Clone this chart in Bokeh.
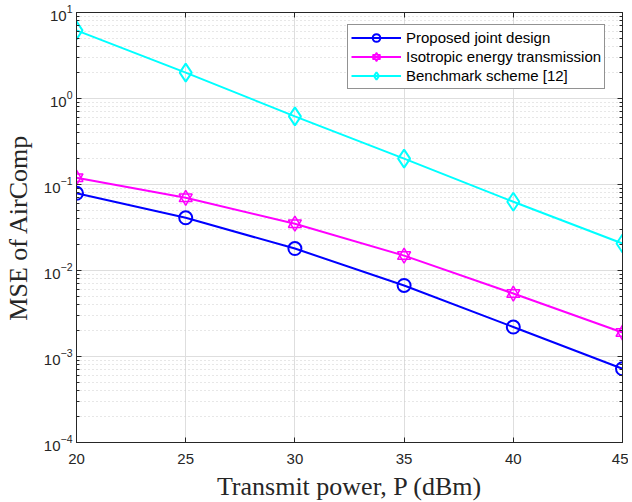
import numpy as np
from bokeh.plotting import figure
from bokeh.models import Range1d, FixedTicker, LinearAxis, LogAxis, Legend, LegendItem
from bokeh.embed import file_html
from bokeh.resources import INLINE

# ---- data ----
power_dbm = [20, 25, 30, 35, 40, 45]
mse_proposed = [0.079, 0.041, 0.018, 0.0067, 0.0022, 0.00072]
mse_isotropic = [0.12, 0.070, 0.035, 0.0149, 0.0054, 0.0019]
mse_benchmark = [6.2, 2.0, 0.62, 0.20, 0.063, 0.0206]

series_labels = ["Proposed joint design", "Isotropic energy transmission", "Benchmark scheme [12]"]
x_ticks = [20, 25, 30, 35, 40, 45]
y_major = [1e-4, 1e-3, 1e-2, 1e-1, 1e0, 1e1]
y_minor = [m * 10.0 ** k for k in range(-4, 1) for m in range(2, 10)]

AX = "#262626"
GRID = "#dedede"
MINOR = "#cfcfcf"

p = figure(frame_width=546, frame_height=430, output_backend="svg", toolbar_location=None,
           x_range=Range1d(20, 45), y_range=Range1d(1e-4, 1e1), y_axis_type="log",
           min_border_left=76, min_border_right=6, min_border_top=12, min_border_bottom=50)
p.background_fill_color = "white"
p.border_fill_color = "white"
p.outline_line_color = AX
p.outline_line_width = 1

xa = p.below[0]
ya = p.left[0]

xt = FixedTicker(ticks=x_ticks, minor_ticks=[])
yt = FixedTicker(ticks=y_major, minor_ticks=y_minor)

def style_axis(ax, show_labels=True):
    ax.axis_line_color = AX
    ax.major_tick_in = 5
    ax.major_tick_out = 0
    ax.minor_tick_in = 3
    ax.minor_tick_out = 0
    ax.major_tick_line_color = AX
    ax.minor_tick_line_color = AX
    ax.major_label_text_font = "Liberation Sans"
    ax.major_label_text_font_size = "15px"
    ax.major_label_text_color = AX if show_labels else None

xa.ticker = xt
ya.ticker = yt
style_axis(xa)
style_axis(ya)
xa.major_label_standoff = 11
ya.major_label_standoff = 4

top = LinearAxis(ticker=xt)
style_axis(top, False)
top.major_label_text_font_size = "1px"
top.major_label_standoff = 0
p.add_layout(top, "above")
right = LogAxis(ticker=yt)
style_axis(right, False)
right.major_label_text_font_size = "1px"
right.major_label_standoff = 0
p.add_layout(right, "right")

xa.axis_label = "Transmit power, P (dBm)"
ya.axis_label = "MSE of AirComp"
for ax in (xa, ya):
    ax.axis_label_text_font = "Liberation Serif"
    ax.axis_label_text_font_size = "26px"
    ax.axis_label_text_font_style = "normal"
    ax.axis_label_text_color = AX
xa.axis_label_standoff = 5
ya.axis_label_standoff = 8

p.xgrid.ticker = xt
p.ygrid.ticker = yt
p.xgrid.grid_line_color = GRID
p.ygrid.grid_line_color = GRID
p.ygrid.minor_grid_line_color = MINOR
p.ygrid.minor_grid_line_dash = "1 3"
p.xgrid.minor_grid_line_color = None

# ---- series ----
l1 = p.line(power_dbm, mse_proposed, line_color="#0000ff", line_width=2)
m1 = p.scatter(power_dbm, mse_proposed, marker="circle", size=13, line_color="#0000ff",
               line_width=2, fill_color=None)
l2 = p.line(power_dbm, mse_isotropic, line_color="#ff00ff", line_width=2)
m2a = p.scatter(power_dbm, mse_isotropic, marker="triangle", size=13, line_color="#ff00ff",
                line_width=1.5, fill_color=None)
m2b = p.scatter(power_dbm, mse_isotropic, marker="inverted_triangle", size=13, line_color="#ff00ff",
                line_width=1.5, fill_color=None)
l3 = p.line(power_dbm, mse_benchmark, line_color="#00ffff", line_width=2)
m3 = p.scatter(power_dbm, mse_benchmark, marker="diamond", size=18, line_color="#00ffff",
               line_width=2, fill_color=None)

legend = Legend(items=[
    LegendItem(label=series_labels[0], renderers=[l1, m1]),
    LegendItem(label=series_labels[1], renderers=[l2, m2a, m2b]),
    LegendItem(label=series_labels[2], renderers=[l3, m3]),
], location=(271, 353))
legend.margin = 0
legend.padding = 3
legend.spacing = 0
legend.glyph_width = 50
legend.glyph_height = 19
legend.label_height = 19
legend.label_standoff = 5
legend.label_text_font = "Liberation Sans"
legend.label_text_font_size = "15px"
legend.label_text_color = "black"
legend.border_line_color = AX
legend.border_line_width = 1
legend.background_fill_color = "white"
legend.background_fill_alpha = 1
p.add_layout(legend, "center")

open("out.html", "w").write(file_html(p, INLINE))
